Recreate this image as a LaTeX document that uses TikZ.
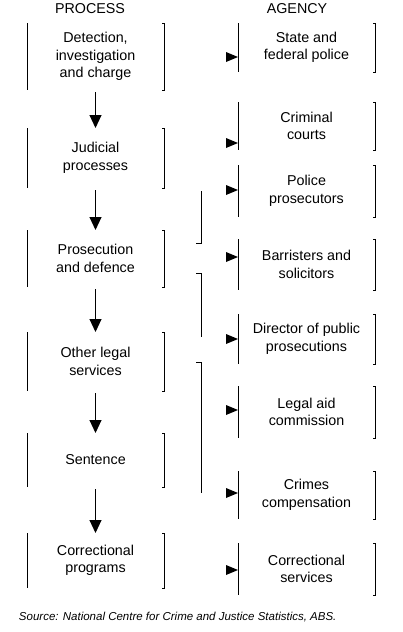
\documentclass[tikz,border=0pt]{standalone}
\usepackage{fontspec}
\setmainfont{Liberation Sans}
\usetikzlibrary{arrows.meta,calc}
\begin{document}
\begin{tikzpicture}[x=1pt,y=-1pt,
  every node/.style={inner sep=0pt, outer sep=0pt, align=center, font=\fontsize{14.3}{17.5}\selectfont},
  pbox/.style={minimum width=137pt},
  abox/.style={minimum width=137pt},
  hdr/.style={font=\fontsize{14.3}{17.5}\selectfont},
  side/.style={line width=1pt},
  parrow/.style={line width=1pt, -{Triangle[length=13pt,width=12pt]}, shorten <=2pt},
  ahead/.style={fill=black}
]
\useasboundingbox (0,0) rectangle (402,632);
% headers
\node[hdr] (hp) at (90,9) {PROCESS};
\node[hdr] (ha) at (297,9) {AGENCY};
% process boxes
\node[pbox, minimum height=67pt] (p1) at (95.5,56.5) {Detection,\\investigation\\and charge};
\node[pbox, minimum height=60pt] (p2) at (95.5,158) {Judicial\\processes};
\node[pbox, minimum height=57pt] (p3) at (95.5,258.5) {Prosecution\\and defence};
\node[pbox, minimum height=59pt] (p4) at (95.5,361.5) {Other legal\\services};
\node[pbox, minimum height=54pt] (p5) at (95.5,460) {Sentence};
\node[pbox, minimum height=55pt] (p6) at (95.5,560.5) {Correctional\\programs};
% agency boxes
\node[abox, minimum height=49pt] (a1) at (306.5,47.5) {State and\\federal police};
\node[abox, minimum height=48pt] (a2) at (306.5,126) {Criminal\\courts};
\node[abox, minimum height=52pt] (a3) at (306.5,191) {Police\\prosecutors};
\node[abox, minimum height=51pt] (a4) at (306.5,264.5) {Barristers and\\solicitors};
\node[abox, minimum height=50pt] (a5) at (306.5,339) {Director of public\\prosecutions};
\node[abox, minimum height=52pt] (a6) at (306.5,412) {Legal aid\\commission};
\node[abox, minimum height=48pt] (a7) at (306.5,495) {Crimes\\compensation};
\node[abox, minimum height=52pt] (a8) at (306.5,569) {Correctional\\services};
% box sides
\foreach \n in {p1,p2,p3,p4,p5,p6,a1,a2,a3,a4,a5,a6,a7,a8}{
  \draw[side] (\n.north west) -- (\n.south west);
  \draw[side] ([xshift=-2pt]\n.north east) -- (\n.north east) -- (\n.south east) -- ([xshift=-2pt]\n.south east);
}
% process flow arrows
\draw[parrow] (p1.south) -- (p2.north);
\draw[parrow] (p2.south) -- (p3.north);
\draw[parrow] (p3.south) -- (p4.north);
\draw[parrow] (p4.south) -- (p5.north);
\draw[parrow] (p5.south) -- (p6.north);
% agency arrowheads
\foreach \n/\yy in {a1/57,a2/143,a3/190,a4/257,a5/339,a6/410,a7/493,a8/570}{
  \coordinate (h\n) at (0,\yy);
  \fill[ahead] (\n.west |- h\n) -- ++(-12,-5) -- ++(0,10) -- cycle;
}
% connector fragments
\coordinate (v1a) at (201,191);
\coordinate (v1b) at (201,243);
\coordinate (v1c) at (196,243);
\coordinate (v2a) at (196,273);
\coordinate (v2b) at (201,273);
\coordinate (v2c) at (201,337);
\coordinate (v3a) at (196,362);
\coordinate (v3b) at (201,362);
\coordinate (v3c) at (201,493);
\draw[side] (v1a) -- (v1b) -- (v1c);
\draw[side] (v2a) -- (v2b) -- (v2c);
\draw[side] (v3a) -- (v3b) -- (v3c);
% source
\node[anchor=west, font=\fontsize{11.5}{14}\selectfont\itshape] (src) at (19,617) {Source: National Centre for Crime and Justice Statistics, ABS.};
\end{tikzpicture}
\end{document}
